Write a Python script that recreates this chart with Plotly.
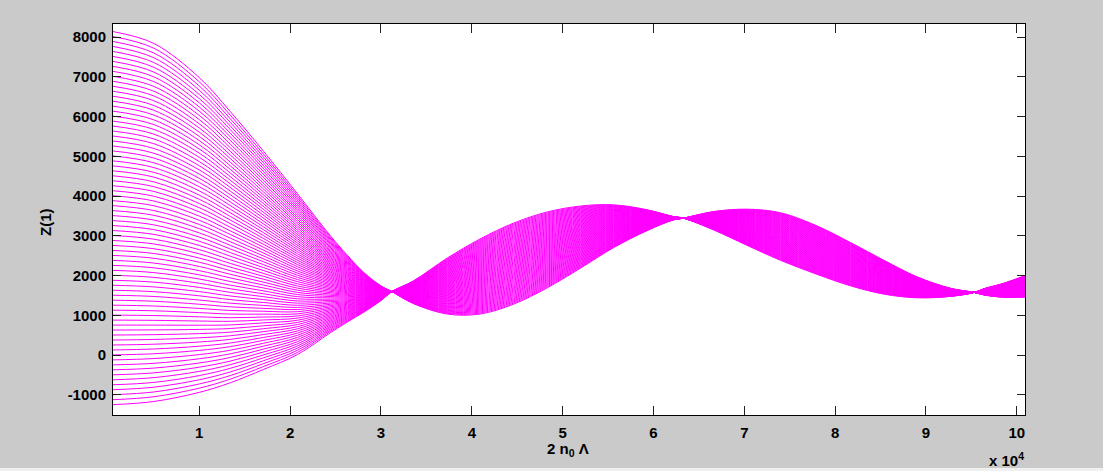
import numpy as np
import plotly.graph_objects as go

# Sample positions along 2 n0 Lambda (absolute units)
x_values = [500, 5000, 10000, 13400, 17100, 20800, 24400, 26300, 28100, 30000, 31200,
            33600, 37300, 40900, 44600, 48300, 52000, 55600, 59300, 62200, 63300,
            66600, 70300, 74000, 78000, 81700, 85400, 89000, 92700, 95300,
            96400, 98600, 100900]

# Curve that starts highest at the left edge
z_first = [8140, 7840, 6980, 6130, 5120, 4060, 3010, 2510, 2080, 1740, 1595,
           1290, 1030, 1030, 1280, 1690, 2190, 2700, 3130, 3400, 3443,
           3610, 3670, 3580, 3250, 2830, 2380, 1970, 1680, 1575,
           1510, 1450, 1455]

# Curve that starts lowest at the left edge
z_last = [-1250, -1170, -940, -700, -360, 10, 555, 830, 1075, 1370, 1595,
          1870, 2440, 2920, 3320, 3600, 3750, 3780, 3655, 3484, 3443,
          3150, 2760, 2380, 2030, 1740, 1530, 1440, 1475, 1575,
          1670, 1810, 2000]

n_curves = 76

x_tick_vals = [10000, 20000, 30000, 40000, 50000, 60000, 70000, 80000, 90000, 100000]
x_tick_text = ["1", "2", "3", "4", "5", "6", "7", "8", "9", "10"]
y_tick_vals = [-1000, 0, 1000, 2000, 3000, 4000, 5000, 6000, 7000, 8000]
y_tick_text = ["-1000", "0", "1000", "2000", "3000", "4000", "5000", "6000", "7000", "8000"]

zf = np.array(z_first, dtype=float)
zl = np.array(z_last, dtype=float)

fig = go.Figure()
for k in range(n_curves):
    w = k / (n_curves - 1)
    fig.add_trace(go.Scatter(
        x=x_values, y=zl + w * (zf - zl), mode="lines",
        line=dict(color="#ff00ff", width=1, shape="spline", smoothing=1.0),
        hoverinfo="skip", showlegend=False))

FONT = "Liberation Sans, Arial, sans-serif"
tickfont = dict(family=FONT, size=15, color="black", weight="bold")

W, H = 1103, 471
L, R, T, B = 113, 78, 24, 56
pw, ph = W - L - R, H - T - B

def px_x(px):
    return (px - L) / pw

def px_y(py):
    return (H - B - py) / ph

fig.update_layout(
    width=W, height=H,
    margin=dict(l=L, r=R, t=T, b=B),
    paper_bgcolor="#cacaca",
    plot_bgcolor="white",
    showlegend=False,
    xaxis=dict(range=[500, 100900], tickvals=x_tick_vals, ticktext=x_tick_text,
               ticks="inside", ticklen=9, tickwidth=1, tickcolor="#222",
               showline=True, linecolor="black", linewidth=1, mirror="ticks",
               showgrid=False, zeroline=False, tickfont=tickfont,
               ticklabelstandoff=4),
    yaxis=dict(range=[-1510, 8330], tickvals=y_tick_vals, ticktext=y_tick_text,
               ticks="inside", ticklen=8, tickwidth=1, tickcolor="#222",
               showline=True, linecolor="black", linewidth=1, mirror="ticks",
               showgrid=False, zeroline=False, tickfont=tickfont,
               ticklabelstandoff=3),
    annotations=[
        dict(text="Z(1)", textangle=-90, xref="paper", yref="paper",
             x=px_x(45), y=px_y(222), xanchor="center", yanchor="middle",
             showarrow=False, font=dict(family=FONT, size=15, color="black", weight="bold")),
        dict(text="2 n<sub>0</sub> Λ", xref="paper", yref="paper",
             x=px_x(568), y=px_y(449), xanchor="center", yanchor="middle",
             showarrow=False, font=dict(family=FONT, size=15, color="black", weight="bold")),
        dict(text="x 10<sup>4</sup>", xref="paper", yref="paper",
             x=px_x(1026), y=px_y(459), xanchor="right", yanchor="middle",
             showarrow=False, font=dict(family=FONT, size=15, color="black", weight="bold")),
    ],
    shapes=[dict(type="rect", xref="paper", yref="paper",
                 x0=px_x(0), x1=px_x(W), y0=px_y(468), y1=px_y(H + 2),
                 fillcolor="#f0f0f0", line=dict(width=0), layer="above")],
)

fig.write_html("out.html",
               config={"displayModeBar": False, "staticPlot": True},
               post_script="document.body.style.margin='0px';document.body.style.overflow='hidden';")
